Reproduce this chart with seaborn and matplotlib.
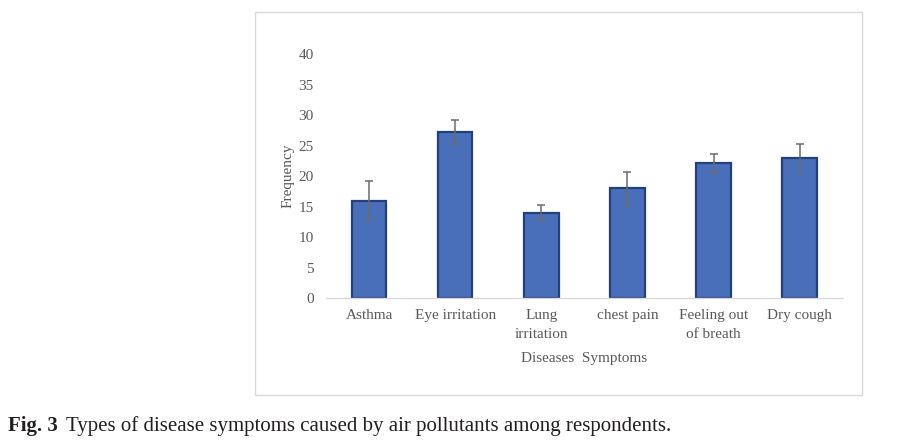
import matplotlib
matplotlib.use("Agg")
import matplotlib.pyplot as plt
import seaborn as sns
import pandas as pd
from matplotlib.patches import Rectangle

# ---------------------------------------------------
# Data
# ---------------------------------------------------

symptoms = ["Asthma", "Eye irritation", "Lung\nirritation", "chest pain",
            "Feeling out\nof breath", "Dry cough"]
frequency = [16.0, 27.2, 14.0, 18.0, 22.1, 23.0]
error = [3.2, 2.0, 1.2, 2.7, 1.6, 2.3]

y_ticks = [0, 5, 10, 15, 20, 25, 30, 35, 40]

# ---------------------------------------------------
# Style
# ---------------------------------------------------

sns.set_theme(style="white")
plt.rcParams["font.family"] = ["Liberation Serif", "DejaVu Serif"]

BAR_BLUE = "#4a6fba"
BAR_EDGE = "#22407a"
TEXT_GRAY = "#595959"
LINE_GRAY = "#d9d9d9"

df = pd.DataFrame({"symptom": symptoms, "frequency": frequency})

fig = plt.figure(figsize=(9.22, 4.43), dpi=100)
ax = fig.add_axes([0.3536, 0.327, 0.5604, 0.551])

sns.barplot(
    data=df,
    x="symptom",
    y="frequency",
    color=BAR_BLUE,
    edgecolor=BAR_EDGE,
    linewidth=1.6,
    width=0.4,
    saturation=1,
    errorbar=None,
    ax=ax
)

ax.errorbar(
    range(len(symptoms)),
    frequency,
    yerr=error,
    fmt="none",
    ecolor="#6b6b6b",
    elinewidth=1.1,
    capsize=3,
    capthick=1.1
)

ax.set_ylim(0, 40)
ax.set_xlim(-0.5, len(symptoms) - 0.5)
ax.set_yticks(y_ticks)
ax.tick_params(axis="y", length=0, labelsize=11, labelcolor=TEXT_GRAY, pad=9)
ax.tick_params(axis="x", which="major", length=0, labelsize=11,
               labelcolor=TEXT_GRAY, pad=8)
for lbl in ax.get_xticklabels():
    lbl.set_linespacing(1.6)
ax.set_xticks([i - 0.5 for i in range(len(symptoms) + 1)], minor=True)
ax.tick_params(axis="x", which="minor", length=5, color=LINE_GRAY, width=1)

for side in ["top", "right", "left"]:
    ax.spines[side].set_visible(False)
ax.spines["bottom"].set_color(LINE_GRAY)
ax.spines["bottom"].set_linewidth(1)

ax.set_xlabel("Diseases  Symptoms", fontsize=11, color=TEXT_GRAY, labelpad=8)
ax.set_ylabel("Frequency", fontsize=11, color=TEXT_GRAY, labelpad=3)

# chart frame
fig.patches.append(Rectangle((255 / 922, 1 - 395 / 443), 607 / 922, 383 / 443,
                             transform=fig.transFigure, fill=False,
                             edgecolor=LINE_GRAY, linewidth=1))

fig.text(8 / 922, 1 - 431 / 443, "Fig. 3", fontsize=15, fontweight="bold",
         color="#231f20", va="baseline")
fig.text(66 / 922, 1 - 431 / 443,
         "Types of disease symptoms caused by air pollutants among respondents.",
         fontsize=15, color="#231f20", va="baseline")

plt.savefig("out.png", dpi=100)
plt.close()
